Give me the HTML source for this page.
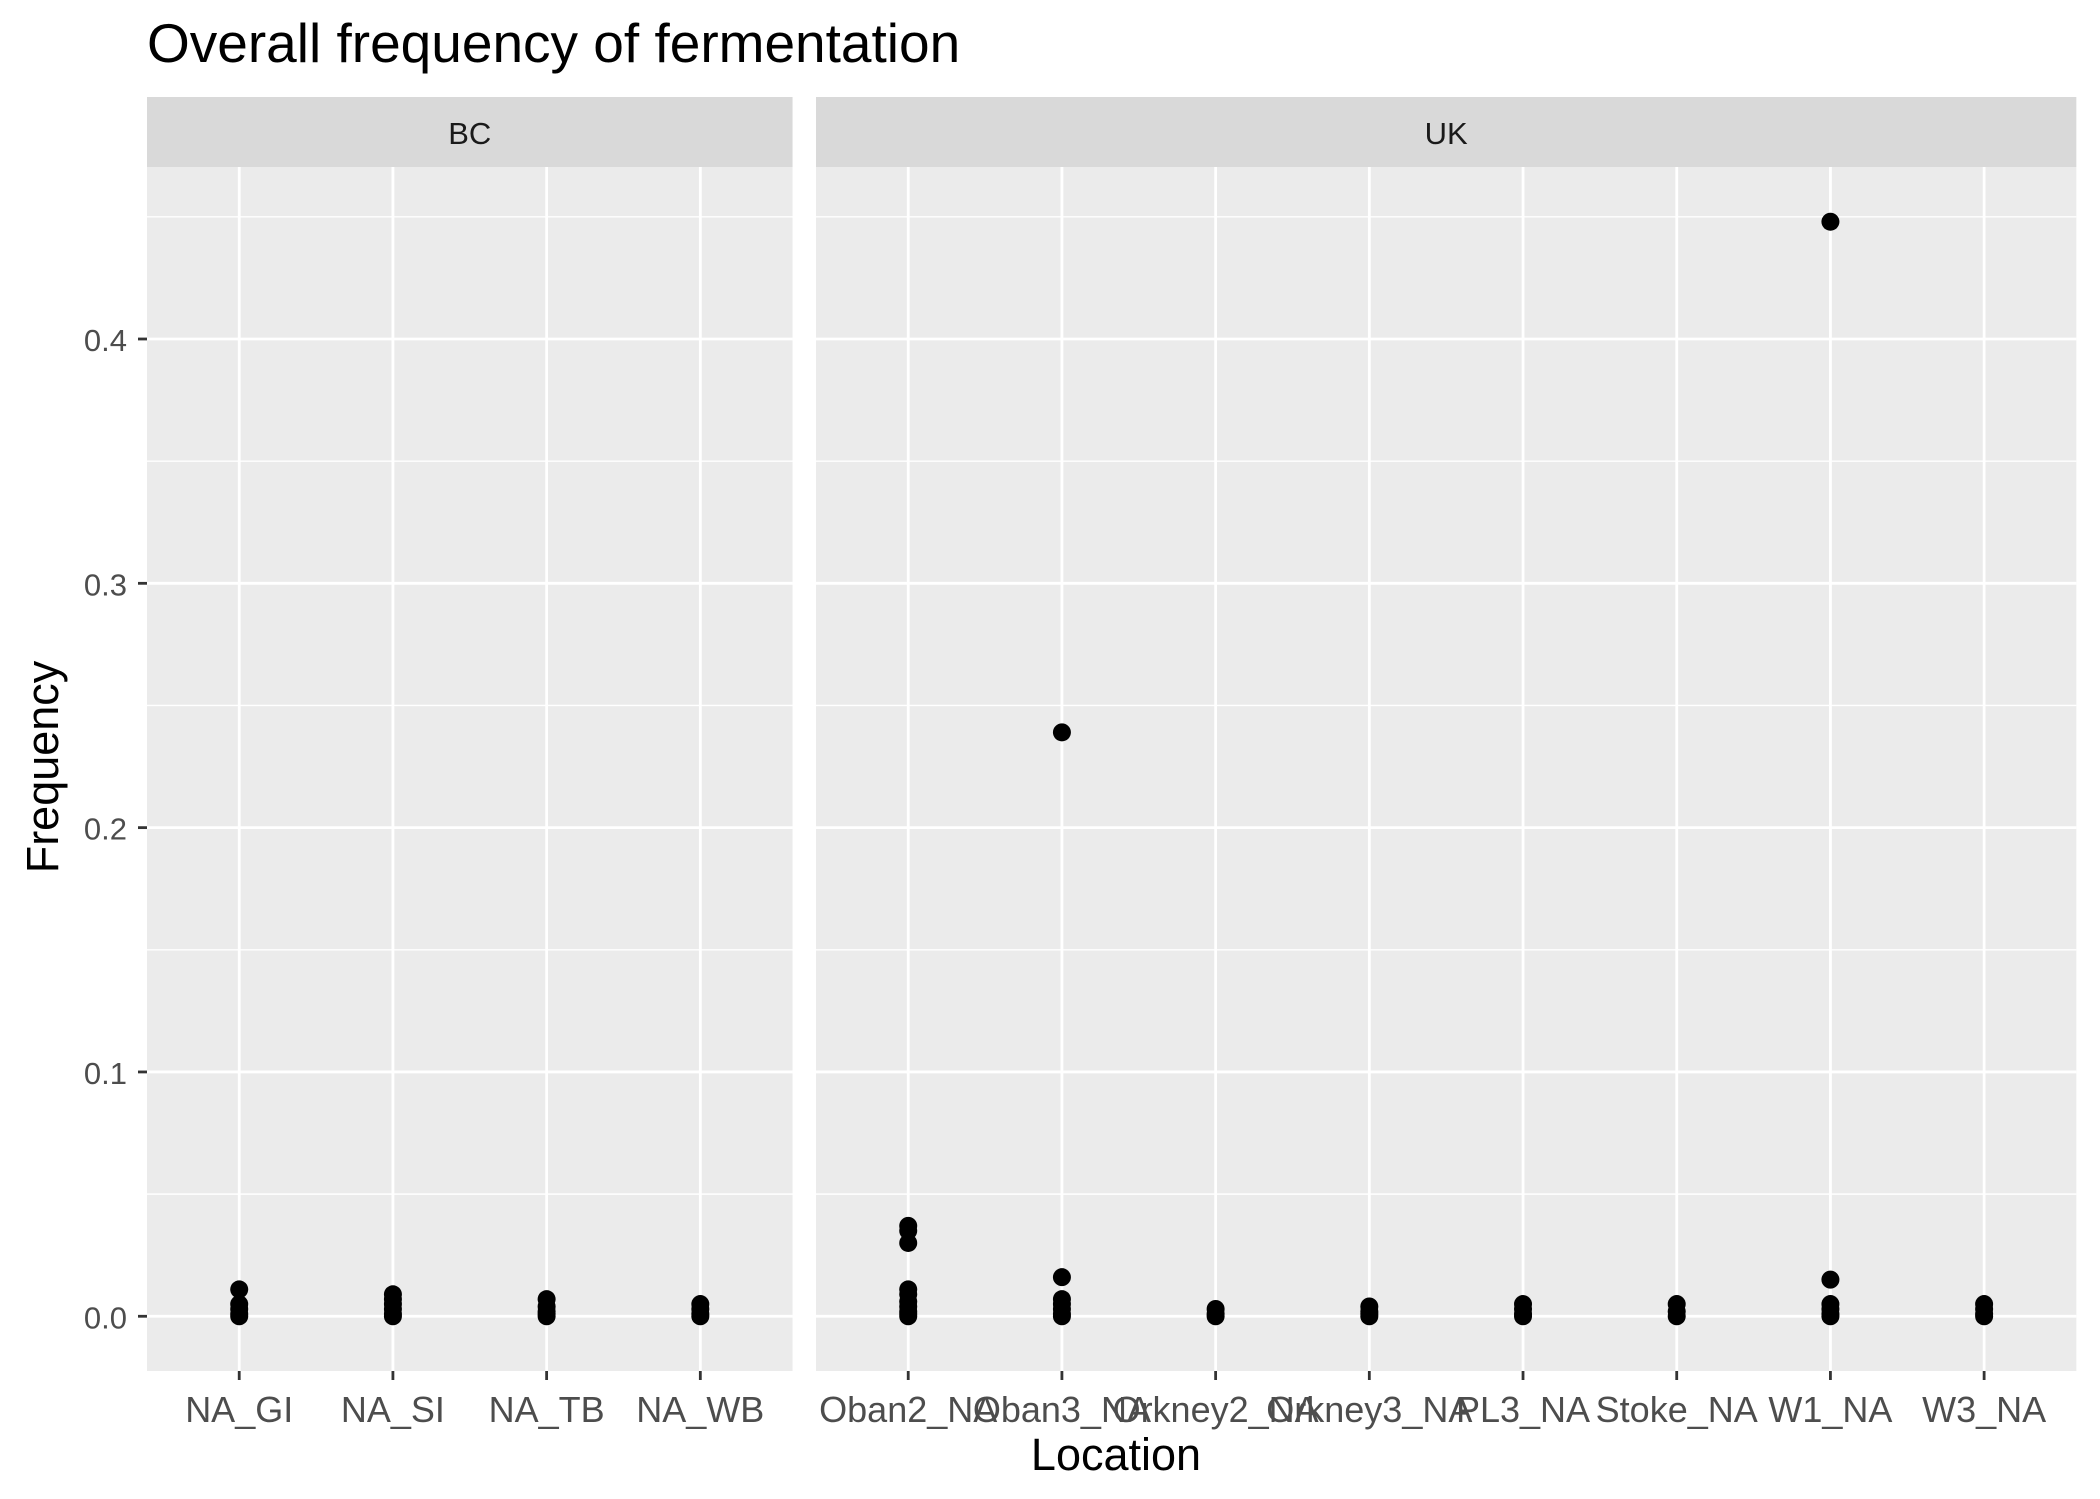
<!DOCTYPE html>
<html><head><meta charset="utf-8"><style>
html,body{margin:0;padding:0;background:#fff}
svg{display:block;font-family:"Liberation Sans",Arial,sans-serif}
</style></head><body>
<svg id="chart" width="2100" height="1499" viewBox="0 0 2100 1499">
<text x="147" y="62" font-size="55" fill="#000">Overall frequency of fermentation</text>
<g id="panels"></g>
<text x="1116" y="1470" font-size="45" text-anchor="middle" fill="#000">Location</text>
<text transform="translate(58,767) rotate(-90)" font-size="45" text-anchor="middle" fill="#000">Frequency</text>
</svg>
<script>
const bcCats = ["NA_GI","NA_SI","NA_TB","NA_WB"];
const ukCats = ["Oban2_NA","Oban3_NA","Orkney2_NA","Orkney3_NA","PL3_NA","Stoke_NA","W1_NA","W3_NA"];
const bcValues = [
  [0.011,0.005,0.003,0.001,0],
  [0.009,0.007,0.005,0.003,0.001,0],
  [0.007,0.004,0.002,0.001,0],
  [0.005,0.003,0.001,0]
];
const ukValues = [
  [0.037,0.035,0.030,0.011,0.009,0.006,0.004,0.002,0.001,0],
  [0.239,0.016,0.007,0.005,0.003,0.001,0],
  [0.003,0.001,0],
  [0.004,0.002,0.001,0],
  [0.005,0.003,0.001,0],
  [0.005,0.002,0],
  [0.448,0.015,0.005,0.003,0.001,0],
  [0.005,0.003,0.001,0]
];
const yTicks = [0,0.1,0.2,0.3,0.4];
const yTickLabels = ["0.0","0.1","0.2","0.3","0.4"];
const facetNames = ["BC","UK"];

const NS="http://www.w3.org/2000/svg";
const root=document.getElementById("panels");
function mk(tag,attrs,parent){const e=document.createElementNS(NS,tag);for(const k in attrs)e.setAttribute(k,attrs[k]);(parent||root).appendChild(e);return e;}
const pTop=167,pBottom=1371;
const allVals=bcValues.flat().concat(ukValues.flat());
const ymin=Math.min(...allVals),ymax=Math.max(...allVals);
const pad=(ymax-ymin)*0.05;
function y(v){return pBottom-(v-(ymin-pad))/((ymax+pad)-(ymin-pad))*(pBottom-pTop);}
const unit=153.7,addU=0.6;
const panels=[{x0:147,cats:bcCats,vals:bcValues,name:facetNames[0]},{x0:816,cats:ukCats,vals:ukValues,name:facetNames[1]}];
panels.forEach((p,pi)=>{
  const w=(p.cats.length-1+2*addU)*unit;
  const x=i=>p.x0+(addU+i)*unit;
  const g=mk("g",{});
  
  
  const bg=mk("rect",{x:p.x0,y:pTop,width:w,height:pBottom-pTop,fill:"#EBEBEB"},g);
  
  
  for(let k=0;k<yTicks.length-1;k++){const v=(yTicks[k]+yTicks[k+1])/2;
    mk("line",{x1:p.x0,x2:p.x0+w,y1:y(v),y2:y(v),stroke:"#fff","stroke-width":1.4},g);}
  mk("line",{x1:p.x0,x2:p.x0+w,y1:y(0.45),y2:y(0.45),stroke:"#fff","stroke-width":1.4},g);
  yTicks.forEach(v=>{const l=mk("line",{x1:p.x0,x2:p.x0+w,y1:y(v),y2:y(v),stroke:"#fff","stroke-width":2.8},g);
    
    });
  p.cats.forEach((c,i)=>{
    const l=mk("line",{x1:x(i),x2:x(i),y1:pTop,y2:pBottom,stroke:"#fff","stroke-width":2.8},g);
    
    
    mk("line",{x1:x(i),x2:x(i),y1:pBottom,y2:pBottom+9,stroke:"#333","stroke-width":2.8},g);
    const t=mk("text",{x:x(i),y:1422,"font-size":36,"text-anchor":"middle",fill:"#4D4D4D"},g);
    t.textContent=c;
    
    
    p.vals[i].forEach(v=>{
      const pt=mk("circle",{cx:x(i),cy:y(v),r:9,fill:"#000"},g);
      
      
    });
  });
  const s=mk("rect",{x:p.x0,y:97,width:w,height:70,fill:"#D9D9D9"},g);
  
  
  const st=mk("text",{x:p.x0+w/2,y:144,"font-size":31,"text-anchor":"middle",fill:"#1A1A1A"},g);
  st.textContent=p.name;
  
  
});
yTicks.forEach((v,k)=>{
  mk("line",{x1:138,x2:147,y1:y(v),y2:y(v),stroke:"#333","stroke-width":2.8});
  const t=mk("text",{x:127,y:y(v)+12,"font-size":31,"text-anchor":"end",fill:"#4D4D4D"});
  t.textContent=yTickLabels[k];
  
  
});
</script>
</body></html>
